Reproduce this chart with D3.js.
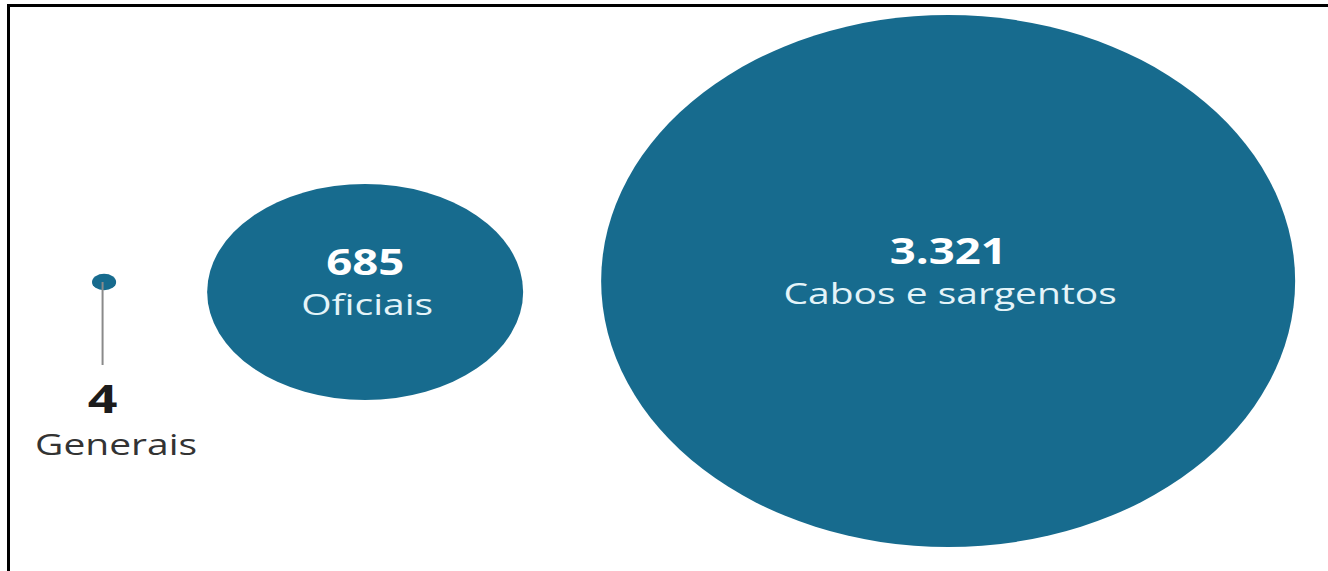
<!DOCTYPE html>
<html>
<head>
<meta charset="utf-8">
<script src="https://cdn.jsdelivr.net/npm/d3@7"></script>
<style>
  html, body { margin: 0; padding: 0; background: #fff; }
  svg { display: block; font-family: "Open Sans", "Noto Sans", sans-serif; }
</style>
</head>
<body>
<svg id="chart" width="1328" height="571"></svg>
<script>
/* ---------- data ---------- */
const categories = ["Generais", "Oficiais", "Cabos e sargentos"];
const values = [4, 685, 3321];
const valueLabels = ["4", "685", "3.321"];

/* ---------- setup ---------- */
const W = 1328, H = 571;
const svg = d3.select("#chart");
const fill = "#176b8e";
const stretch = 1.3;           // source image is stretched horizontally

// frame (top + left rule only, as in the source crop)
svg.append("line").attr("x1", 7).attr("x2", W).attr("y1", 5.5).attr("y2", 5.5)
  .attr("stroke", "#000").attr("stroke-width", 3);
svg.append("line").attr("x1", 8.5).attr("x2", 8.5).attr("y1", 4).attr("y2", H)
  .attr("stroke", "#000").attr("stroke-width", 3);

/* ---------- scales ---------- */
const rx = d3.scaleSqrt().domain([0, 685, 3321]).range([0, 158, 347]);
const ry = d3.scaleSqrt().domain([0, 685, 3321]).range([0, 108, 266]);

/* ---------- layout: bubbles in a row, left to right ---------- */
const startX = 92;
const gaps = [0, 91, 78];
const baseY = 282;
const dy = [0, 10, -1];

let cursor = startX;
const nodes = categories.map((name, i) => {
  cursor += gaps[i];
  const n = { name, value: values[i], label: valueLabels[i],
              rx: rx(values[i]), ry: ry(values[i]) };
  n.cx = cursor + n.rx;
  n.cy = baseY + dy[i];
  cursor += 2 * n.rx;
  return n;
});

/* ---------- bubbles ---------- */
svg.append("g").selectAll("ellipse").data(nodes).join("ellipse")
  .attr("cx", d => d.cx).attr("cy", d => d.cy)
  .attr("rx", d => d.rx).attr("ry", d => d.ry)
  .attr("fill", fill);

// small bubble gets a leader line and labels underneath
const small = nodes.filter(d => d.rx < 40);
const big = nodes.filter(d => d.rx >= 40);

svg.append("g").selectAll("line").data(small).join("line")
  .attr("x1", d => d.cx - 1.5).attr("x2", d => d.cx - 1.5)
  .attr("y1", d => d.cy).attr("y2", 365)
  .attr("stroke", "#8a8a8a").attr("stroke-width", 2);

function stretchedText(sel, x, y) {
  return sel.append("g").attr("transform", `translate(${x},${y}) scale(${stretch},1)`)
    .append("text").attr("text-anchor", "middle");
}

small.forEach(d => {
  stretchedText(svg, d.cx - 1.5, 413)
    .attr("font-size", 40).attr("font-weight", 700).attr("fill", "#1c1c1c")
    .text(d.label);
  stretchedText(svg, d.cx + 12, 455)
    .attr("font-size", 30).attr("fill", "#333")
    .text(d.name);
});

big.forEach(d => {
  stretchedText(svg, d.cx, d.cy - 17)
    .attr("font-size", 35).attr("font-weight", 700).attr("fill", "#fff")
    .text(d.label);
  stretchedText(svg, d.cx + 2, d.cy + 23)
    .attr("font-size", 30).attr("fill", "#e4f4f9")
    .text(d.name);
});
</script>
</body>
</html>
